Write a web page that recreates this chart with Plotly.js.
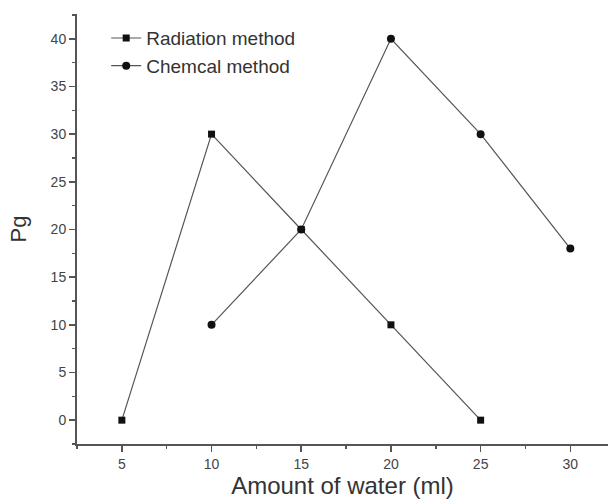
<!DOCTYPE html>
<html><head><meta charset="utf-8">
<script src="https://cdn.plot.ly/plotly-3.0.1.min.js"></script>
<style>body{margin:0;background:#fff}#c{width:608px;height:503px}</style>
</head><body><div id="c"></div>
<script>
const radX = [5, 10, 15, 20, 25];
const radY = [0, 30, 20, 10, 0];
const chemX = [10, 15, 20, 25, 30];
const chemY = [10, 20, 40, 30, 18];
const xTicks = [5, 10, 15, 20, 25, 30];
const yTicks = [0, 5, 10, 15, 20, 25, 30, 35, 40];

const FONT = 'Liberation Sans, Arial, sans-serif';
const lineStyle = {color: '#555', width: 1.2};
const traces = [
  {x: radX, y: radY, name: 'Radiation method', mode: 'lines+markers', type: 'scatter', legendgroup: 'a',
   line: lineStyle, marker: {symbol: 'square', size: 7, color: '#111'}},
  {x: chemX, y: chemY, name: 'Chemcal method', mode: 'lines+markers', type: 'scatter', legendgroup: 'b',
   line: lineStyle, marker: {symbol: 'circle', size: 8, color: '#111'}}
];
const axisCommon = {
  showgrid: false, zeroline: false, showline: true, linecolor: '#555', linewidth: 2,
  ticks: 'outside', ticklen: 6, tickwidth: 1.5, tickcolor: '#555',
  tickfont: {family: FONT, size: 14, color: '#444'},
  minor: {ticks: 'outside', ticklen: 3, tickwidth: 1.5, tickcolor: '#555', dtick: 2.5}
};
const layout = {
  width: 608, height: 503,
  margin: {l: 77, r: 0, t: 14, b: 59},
  paper_bgcolor: '#fff', plot_bgcolor: '#fff',
  showlegend: true,
  legend: {x: 0.055, y: 0.988, xanchor: 'left', yanchor: 'top', bgcolor: 'rgba(0,0,0,0)',
           font: {family: FONT, size: 19, color: '#333'},
           traceorder: 'grouped', tracegroupgap: 0},
  xaxis: Object.assign({}, axisCommon, {
    range: [2.5, 32.1], tickvals: xTicks,
    title: {text: 'Amount of water (ml)', standoff: 6,
            font: {family: FONT, size: 24, color: '#333'}}
  }),
  yaxis: Object.assign({}, axisCommon, {
    range: [-2.5, 42.6], tickvals: yTicks,
    title: {text: 'Pg', standoff: 18,
            font: {family: FONT, size: 22, color: '#333'}}
  })
};
Plotly.newPlot('c', traces, layout, {displayModeBar: false, staticPlot: true});
</script></body></html>
